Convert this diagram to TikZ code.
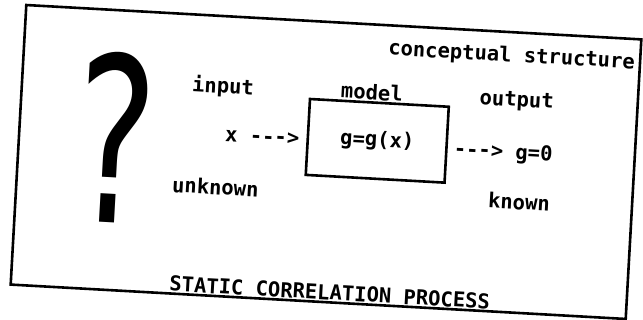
\documentclass[tikz,border=0pt]{standalone}
\usepackage{fontspec}
\setmainfont{DejaVu Sans}
\setmonofont{DejaVu Sans Mono}
\usetikzlibrary{positioning}

\begin{document}
\begin{tikzpicture}[x=1pt, y=1pt,
    plot/.style={font=\fontsize{20.5}{22}\selectfont\ttfamily\bfseries, inner sep=1pt},
    frame/.style={draw, line width=2.6pt, inner sep=0pt},
    block/.style={draw, line width=2.6pt, minimum width=139, minimum height=76}]
\useasboundingbox (0,0) rectangle (643,320);
\begin{scope}[shift={(326,158)}, rotate=-3.2, transform shape]
  \node[frame, minimum width=616, minimum height=280] (sheet) at (0,0) {};
  \node[plot, anchor=east] (concept) at (304,116) {conceptual structure};
  \node[inner sep=0pt, xscale=0.66, font=\fontsize{230}{230}\selectfont] (query) at (-212,13) {?};
  \node[plot] (input) at (-107,69) {input};
  \node[plot] (unknown) at (-109,-31) {unknown};
  \node[plot, block] (model) at (50,24) {g=g(x)};
  \node[plot, above=0pt of model, xshift=-8] (modeltag) {model};
  \node[plot, left=6pt of model, yshift=-3] (xin) {x --->};
  \node[plot, right=5pt of model, yshift=-5] (gout) {---> g=0};
  \node[plot] (output) at (187,71) {output};
  \node[plot] (known) at (195,-29) {known};
  \node[plot, anchor=south] (title) at (11,-139) {STATIC CORRELATION PROCESS};
\end{scope}
\end{tikzpicture}
\end{document}
